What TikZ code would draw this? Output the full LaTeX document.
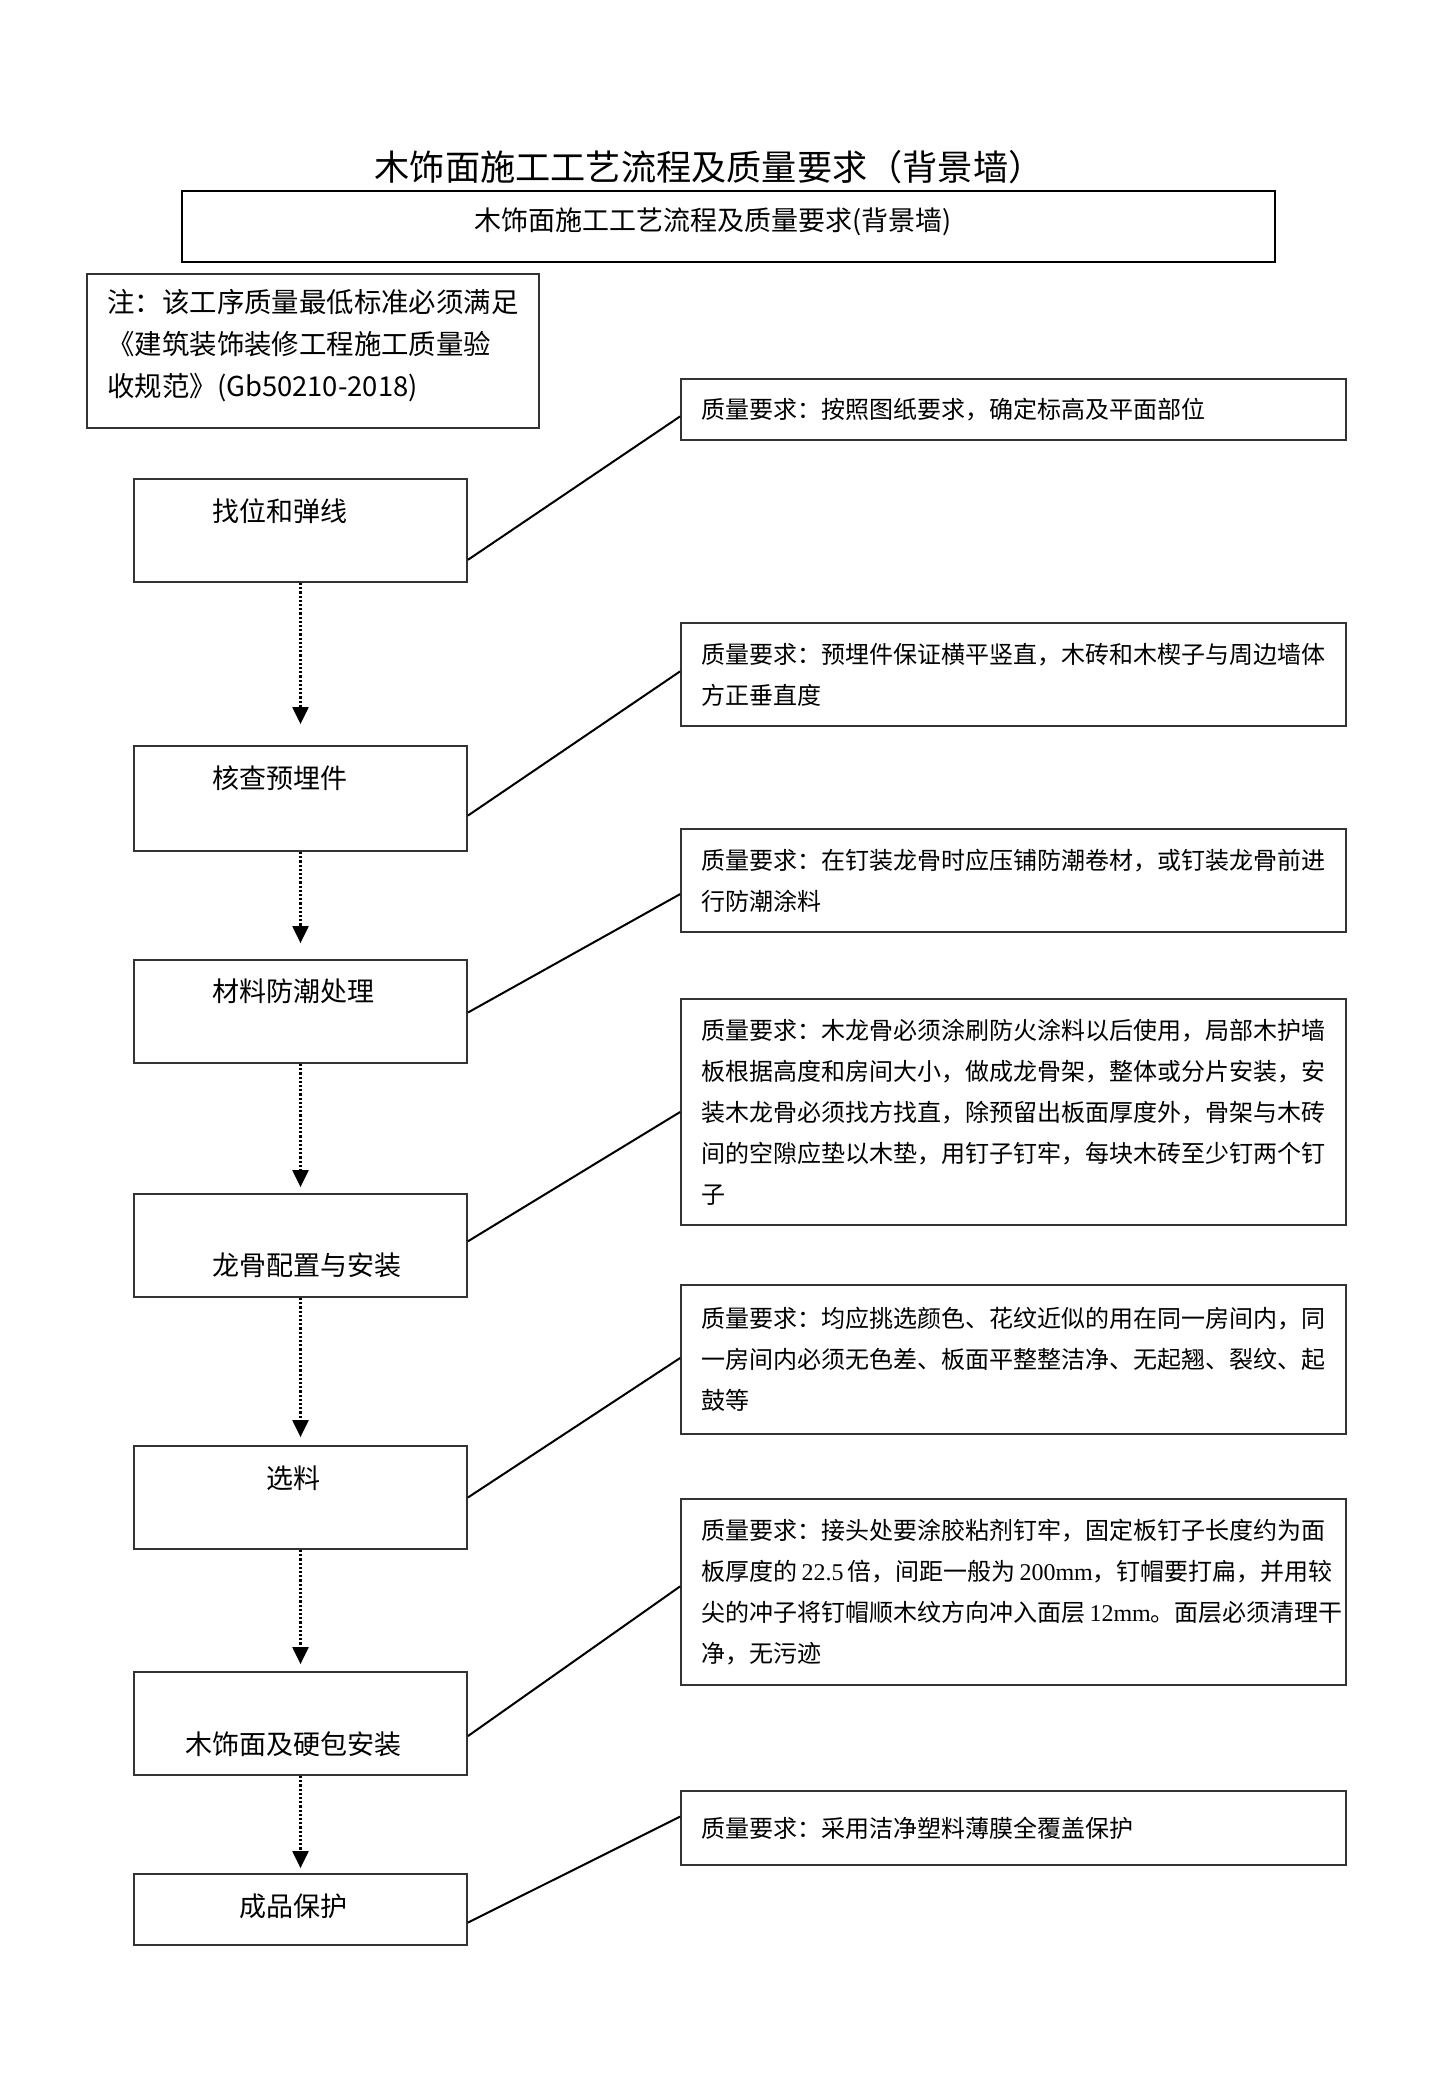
\documentclass[tikz,border=0pt]{standalone}
\usepackage{fontspec}
\setmainfont{Noto Sans CJK SC}
\newfontfamily\lat{Liberation Serif}
\usetikzlibrary{arrows.meta,calc}
\tikzset{
  stepbox/.style={draw=black!80, line width=0.9pt, minimum width=166.5pt, inner sep=0pt},
  reqbox/.style={draw=black!80, line width=0.9pt, text width=312pt, inner xsep=10.25pt, inner ysep=0pt, align=left,
     font=\fontsize{12pt}{20.5pt}\selectfont},
  steptext/.style={inner sep=0pt, font=\fontsize{13.5pt}{16pt}\selectfont},
  flow/.style={line width=1.1pt, dash pattern=on 1.1pt off 1pt, -{Triangle[width=8pt,length=8.5pt]}},
  link/.style={line width=1pt, black}
}
\begin{document}
\begin{tikzpicture}[x=0.5pt,y=-0.5pt]
\useasboundingbox (0,0) rectangle (1450,2098);
% title
\node[inner sep=0pt, font=\fontsize{17.6pt}{20pt}\selectfont] (title) at (709,167) {木饰面施工工艺流程及质量要求（背景墙）};
% banner
\node[draw=black, line width=1.4pt, minimum width=546.5pt, minimum height=35.5pt, inner sep=0pt] (banner) at (728.5,226.5) {};
\node[inner sep=0pt, font=\fontsize{13.5pt}{16pt}\selectfont] (bannertext) at (713,222) {木饰面施工工艺流程及质量要求(背景墙)};
% note
\node[draw=black!80, line width=0.9pt, minimum width=226pt, minimum height=77pt, inner sep=0pt] (note) at (313,351) {};
\node[anchor=west, inner sep=0pt, align=left, font=\fontsize{13.7pt}{21pt}\selectfont] (notetext) at (107,346)
  {注：该工序质量最低标准必须满足\\《建筑装饰装修工程施工质量验\\收规范》(Gb50210-2018)};
% steps
\node[stepbox, minimum height=51.5pt] (s1) at (300.5,530.5) {};
\node[stepbox, minimum height=52.5pt] (s2) at (300.5,798.5) {};
\node[stepbox, minimum height=51.5pt] (s3) at (300.5,1011.5) {};
\node[stepbox, minimum height=51.5pt] (s4) at (300.5,1245.5) {};
\node[stepbox, minimum height=51.5pt] (s5) at (300.5,1497.5) {};
\node[stepbox, minimum height=51.5pt] (s6) at (300.5,1723.5) {};
\node[stepbox, minimum height=35.5pt] (s7) at (300.5,1909.5) {};
\node[steptext] (t1) at (280,511) {找位和弹线};
\node[steptext] (t2) at (280,778) {核查预埋件};
\node[steptext] (t3) at (293,991) {材料防潮处理};
\node[steptext] (t4) at (307,1265) {龙骨配置与安装};
\node[steptext] (t5) at (293,1478) {选料};
\node[steptext] (t6) at (293,1744) {木饰面及硬包安装};
\node[steptext] (t7) at (293,1906) {成品保护};
% requirements
\node[reqbox, minimum height=30.5pt] (r1) at (1013.5,409.5) {质量要求：按照图纸要求，确定标高及平面部位};
\node[reqbox, minimum height=51.5pt] (r2) at (1013.5,674.5) {质量要求：预埋件保证横平竖直，木砖和木楔子与周边墙体\\方正垂直度};
\node[reqbox, minimum height=51.5pt] (r3) at (1013.5,880.5) {质量要求：在钉装龙骨时应压铺防潮卷材，或钉装龙骨前进\\行防潮涂料};
\node[reqbox, minimum height=113pt] (r4) at (1013.5,1112) {质量要求：木龙骨必须涂刷防火涂料以后使用，局部木护墙\\板根据高度和房间大小，做成龙骨架，整体或分片安装，安\\装木龙骨必须找方找直，除预留出板面厚度外，骨架与木砖\\间的空隙应垫以木垫，用钉子钉牢，每块木砖至少钉两个钉\\子};
\node[reqbox, minimum height=74.5pt] (r5) at (1013.5,1359.5) {质量要求：均应挑选颜色、花纹近似的用在同一房间内，同\\一房间内必须无色差、板面平整整洁净、无起翘、裂纹、起\\鼓等};
\node[reqbox, minimum height=93pt] (r6) at (1013.5,1592) {质量要求：接头处要涂胶粘剂钉牢，固定板钉子长度约为面\\\mbox{板厚度的\,{\lat 22.5}\,倍，间距一般为\,{\lat 200mm}，钉帽要打扁，并用较}\\\mbox{尖的冲子将钉帽顺木纹方向冲入面层\,{\lat 12mm}。面层必须清理干}\\净，无污迹};
\node[reqbox, minimum height=37pt] (r7) at (1013.5,1828) {质量要求：采用洁净塑料薄膜全覆盖保护\\[12pt]};
% flow arrows
\draw[flow, shorten >=10.5pt] (s1.south) -- (s2.north);
\draw[flow, shorten >=8pt] (s2.south) -- (s3.north);
\draw[flow, shorten >=3pt] (s3.south) -- (s4.north);
\draw[flow, shorten >=4pt] (s4.south) -- (s5.north);
\draw[flow, shorten >=3.5pt] (s5.south) -- (s6.north);
\draw[flow, shorten >=2.5pt] (s6.south) -- (s7.north);
% links
\draw[link] ($(s1.north east)!0.78!(s1.south east)$) -- ($(r1.north west)!0.61!(r1.south west)$);
\draw[link] ($(s2.north east)!0.66!(s2.south east)$) -- ($(r2.north west)!0.47!(r2.south west)$);
\draw[link] ($(s3.north east)!0.51!(s3.south east)$) -- ($(r3.north west)!0.63!(r3.south west)$);
\draw[link] ($(s4.north east)!0.46!(s4.south east)$) -- ($(r4.north west)!0.50!(r4.south west)$);
\draw[link] ($(s5.north east)!0.50!(s5.south east)$) -- ($(r5.north west)!0.49!(r5.south west)$);
\draw[link] ($(s6.north east)!0.62!(s6.south east)$) -- ($(r6.north west)!0.47!(r6.south west)$);
\draw[link] ($(s7.north east)!0.68!(s7.south east)$) -- ($(r7.north west)!0.35!(r7.south west)$);
\end{tikzpicture}
\end{document}
